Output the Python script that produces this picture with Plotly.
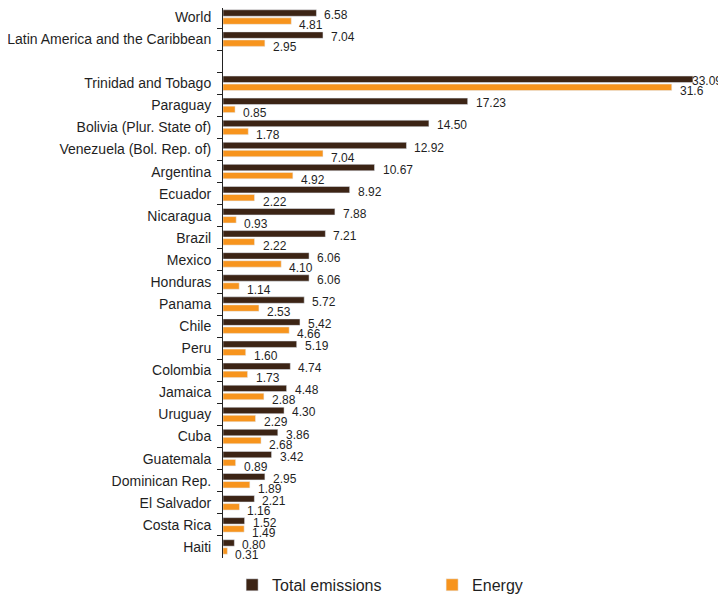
import plotly.graph_objects as go

categories = ["World", "Latin America and the Caribbean", " ",
              "Trinidad and Tobago", "Paraguay", "Bolivia (Plur. State of)",
              "Venezuela (Bol. Rep. of)", "Argentina", "Ecuador", "Nicaragua",
              "Brazil", "Mexico", "Honduras", "Panama", "Chile", "Peru",
              "Colombia", "Jamaica", "Uruguay", "Cuba", "Guatemala",
              "Dominican Rep.", "El Salvador", "Costa Rica", "Haiti"]
total_emissions = [6.58, 7.04, None, 33.09, 17.23, 14.50, 12.92, 10.67, 8.92, 7.88,
                   7.21, 6.06, 6.06, 5.72, 5.42, 5.19, 4.74, 4.48, 4.30, 3.86,
                   3.42, 2.95, 2.21, 1.52, 0.80]
energy = [4.81, 2.95, None, 31.6, 0.85, 1.78, 7.04, 4.92, 2.22, 0.93,
          2.22, 4.10, 1.14, 2.53, 4.66, 1.60, 1.73, 2.88, 2.29, 2.68,
          0.89, 1.89, 1.16, 1.49, 0.31]
series_names = ["Total emissions", "Energy"]

DARK = "#3c2415"
ORANGE = "#f7941d"
TXT = "#1f1f1f"
FONT = "Liberation Sans, Arial, sans-serif"


def fmt(v):
    if v is None:
        return ""
    return f"{v:.2f}"


total_labels = [fmt(v) for v in total_emissions]
energy_labels = [fmt(v) for v in energy]
energy_labels[3] = "31.6"

fig = go.Figure()
fig.add_trace(go.Bar(y=categories, x=total_emissions, orientation="h",
                     name=series_names[0], marker=dict(color=DARK)))
fig.add_trace(go.Bar(y=categories, x=energy, orientation="h",
                     name=series_names[1], marker=dict(color=ORANGE)))

xmax = max(v for v in total_emissions if v is not None)
annotations = []
for cat, v, lab in zip(categories, total_emissions, total_labels):
    if v is None:
        continue
    annotations.append(dict(x=v, y=cat, text=lab, showarrow=False, xanchor="left",
                            yanchor="middle", xshift=-3 if v == xmax else 6, yshift=2,
                            font=dict(size=12, color=TXT, family=FONT)))
for cat, v, lab in zip(categories, energy, energy_labels):
    if v is None:
        continue
    annotations.append(dict(x=v, y=cat, text=lab, showarrow=False, xanchor="left",
                            yanchor="middle", xshift=6, yshift=-8,
                            font=dict(size=12, color=TXT, family=FONT)))

fig.update_layout(
    width=718, height=587,
    margin=dict(l=215, r=23, t=0, b=37, autoexpand=False),
    paper_bgcolor="white", plot_bgcolor="white",
    barmode="group", bargap=0.27, bargroupgap=0.2,
    font=dict(family=FONT, color=TXT, size=14),
    showlegend=True,
    legend=dict(orientation="h", x=0.019, xanchor="left", y=-0.018, yanchor="top",
                font=dict(size=16, color=TXT, family=FONT), entrywidth=155,
                entrywidthmode="pixels", bgcolor="rgba(0,0,0,0)",
                traceorder="normal"),
    annotations=annotations,
)
fig.update_xaxes(visible=False, range=[0, 33.8])
fig.update_yaxes(type="category", categoryorder="array", categoryarray=categories,
                 range=[24.5, -0.41], showline=True, linecolor="#222", linewidth=1,
                 ticks="outside", ticklen=5, tickcolor="#222", tickson="boundaries",
                 ticklabelstandoff=8, showgrid=False, zeroline=False,
                 tickfont=dict(size=14, color=TXT, family=FONT))

fig.write_html("out.html")
